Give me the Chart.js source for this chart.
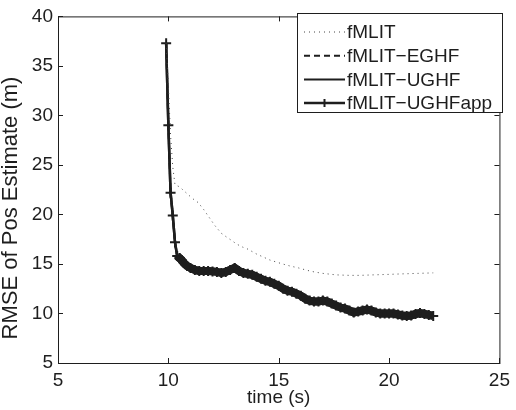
<!DOCTYPE html>
<html>
<head>
<meta charset="utf-8">
<script src="https://cdn.jsdelivr.net/npm/chart.js@4.4.0/dist/chart.umd.min.js"></script>
<style>
  html, body { margin: 0; padding: 0; background: #fff; }
  #wrap { width: 516px; height: 410px; }
</style>
</head>
<body>
<div id="wrap"><canvas id="rmseChart" width="516" height="410"></canvas></div>
<script>
// tick labels
const xTicks = [5, 10, 15, 20, 25];
const yTicks = [5, 10, 15, 20, 25, 30, 35, 40];

// fMLIT (dotted)
const timeMlit = [9.9, 10.0, 10.1, 10.2, 10.3, 10.5, 10.7, 10.9, 11.1, 11.35, 11.6, 11.85, 12.1, 12.4, 12.65,
    12.85, 13.1, 13.37, 13.6, 14.0, 14.3, 14.6, 15.1, 15.5, 15.9, 16.3, 16.6, 17.0, 17.6, 18.2, 18.7,
    19.3, 20.0, 20.6, 21.3, 22.0];
const rmseMlit = [37.3, 33.0, 28.0, 24.8, 23.0, 22.8, 22.4, 22.0, 21.6, 21.2, 20.5, 19.7, 18.9, 18.1, 17.7,
    17.4, 17.0, 16.7, 16.5, 16.0, 15.7, 15.4, 15.05, 14.8, 14.6, 14.35, 14.2, 14.05, 13.9, 13.85, 13.85,
    13.9, 13.95, 14.0, 14.05, 14.1];

// fMLIT-EGHF, fMLIT-UGHF and fMLIT-UGHFapp lie on top of each other
const timeApp = [9.9, 10.0, 10.1, 10.2, 10.3, 10.4, 10.5, 10.6, 10.7, 10.85, 11.0, 11.2, 11.4, 11.6, 11.8,
    12.0, 12.2, 12.4, 12.6, 12.8, 13.0, 13.2, 13.4, 13.6, 13.8, 14.0, 14.2, 14.4, 14.6, 14.8,
    15.0, 15.2, 15.4, 15.6, 15.8, 16.0, 16.2, 16.4, 16.6, 16.8, 17.0, 17.2, 17.4, 17.6, 17.8,
    18.0, 18.2, 18.4, 18.6, 18.8, 19.0, 19.2, 19.4, 19.6, 19.8, 20.0, 20.2, 20.4, 20.6, 20.8,
    21.0, 21.2, 21.4, 21.6, 21.8, 22.0];
const rmseApp = [37.3, 29.0, 22.2, 19.9, 17.2, 15.8, 15.6, 15.4, 15.1, 14.8, 14.6, 14.4, 14.3, 14.3, 14.3,
    14.25, 14.2, 14.1, 14.2, 14.4, 14.6, 14.3, 14.1, 14.0, 13.9, 13.7, 13.5, 13.3, 13.2, 13.0,
    12.8, 12.5, 12.3, 12.2, 12.0, 11.8, 11.5, 11.3, 11.2, 11.2, 11.3, 11.2, 11.0, 10.8, 10.6,
    10.5, 10.3, 10.1, 10.2, 10.3, 10.4, 10.3, 10.1, 10.0, 10.0, 10.0, 10.0, 9.9, 9.8, 9.75,
    9.8, 9.95, 10.05, 9.95, 9.85, 9.75];
const rmseEghf = rmseApp;
const rmseUghf = rmseApp;

const ink = '#1e1e1e';
const font = "'Liberation Sans', Arial, Helvetica, sans-serif";

function toPoints(xs, ys) {
    return xs.map((x, i) => ({ x: x, y: ys[i] }));
}

// box around the axes, inward ticks on all four sides, y label
const boxTicks = {
    id: 'boxTicks',
    afterDraw(chart) {
        const ctx = chart.ctx;
        const a = chart.chartArea;
        const xs = chart.scales.x;
        const ys = chart.scales.y;
        ctx.save();
        ctx.strokeStyle = ink;
        ctx.lineWidth = 1;
        ctx.strokeRect(a.left + 0.5, a.top + 0.5, a.right - a.left, a.bottom - a.top);
        ctx.beginPath();
        xTicks.forEach(v => {
            const px = Math.round(xs.getPixelForValue(v)) + 0.5;
            ctx.moveTo(px, a.bottom); ctx.lineTo(px, a.bottom - 5);
            ctx.moveTo(px, a.top); ctx.lineTo(px, a.top + 5);
        });
        yTicks.forEach(v => {
            const py = Math.round(ys.getPixelForValue(v)) + 0.5;
            ctx.moveTo(a.left, py); ctx.lineTo(a.left + 5, py);
            ctx.moveTo(a.right, py); ctx.lineTo(a.right - 5, py);
        });
        ctx.stroke();

        ctx.translate(11, 208);
        ctx.rotate(-Math.PI / 2);
        ctx.fillStyle = ink;
        ctx.font = '22px ' + font;
        ctx.textAlign = 'center';
        ctx.textBaseline = 'middle';
        ctx.fillText('RMSE of Pos Estimate (m)', 0, 0);
        ctx.restore();
    }
};

// MATLAB style legend box in the upper right corner
const boxLegend = {
    id: 'boxLegend',
    afterDraw(chart) {
        const ctx = chart.ctx;
        const left = 297, top = 13, w = 205, h = 99;
        ctx.save();
        ctx.fillStyle = '#fff';
        ctx.fillRect(left, top, w, h);
        ctx.strokeStyle = ink;
        ctx.lineWidth = 1;
        ctx.strokeRect(left + 0.5, top + 0.5, w, h);
        chart.data.datasets.forEach((ds, i) => {
            const y = top + 19 + i * 23.7;
            ctx.beginPath();
            ctx.setLineDash(ds.borderDash || []);
            ctx.lineWidth = ds.pointStyle === 'cross' ? 2.5 : ds.borderWidth;
            ctx.strokeStyle = ds.borderColor;
            ctx.moveTo(304, y);
            ctx.lineTo(345, y);
            ctx.stroke();
            ctx.setLineDash([]);
            if (ds.pointStyle === 'cross') {
                ctx.beginPath();
                ctx.lineWidth = 2;
                ctx.moveTo(324.5, y - 4); ctx.lineTo(324.5, y + 4);
                ctx.moveTo(320, y); ctx.lineTo(329, y);
                ctx.stroke();
            }
            ctx.fillStyle = ink;
            ctx.font = '19px ' + font;
            ctx.textBaseline = 'middle';
            ctx.textAlign = 'left';
            ctx.fillText(ds.label, 347, y + 1);
        });
        ctx.restore();
    }
};

// the markers are so dense after the drop that they merge into a thick band
const bandWidth = c => (c.p0.parsed.x >= 10.4 ? 8 : 2.5);

new Chart(document.getElementById('rmseChart').getContext('2d'), {
    type: 'line',
    data: {
        datasets: [{
            label: 'fMLIT',
            data: toPoints(timeMlit, rmseMlit),
            borderColor: '#444',
            borderWidth: 1,
            borderDash: [1, 4],
            pointRadius: 0,
            tension: 0
        }, {
            label: 'fMLIT\u2212EGHF',
            data: toPoints(timeApp, rmseEghf),
            borderColor: ink,
            borderWidth: 2,
            borderDash: [6, 4],
            pointRadius: 0,
            tension: 0
        }, {
            label: 'fMLIT\u2212UGHF',
            data: toPoints(timeApp, rmseUghf),
            borderColor: ink,
            borderWidth: 2,
            segment: { borderWidth: bandWidth },
            pointRadius: 0,
            tension: 0
        }, {
            label: 'fMLIT\u2212UGHFapp',
            data: toPoints(timeApp, rmseApp),
            borderColor: ink,
            backgroundColor: ink,
            borderWidth: 2.5,
            segment: { borderWidth: bandWidth },
            pointStyle: 'cross',
            pointRadius: 5,
            pointBorderWidth: 2,
            pointBorderColor: ink,
            tension: 0
        }]
    },
    options: {
        responsive: false,
        animation: false,
        layout: { padding: { left: 0, right: 10, top: 11, bottom: 0 } },
        plugins: {
            legend: { display: false },
            tooltip: { enabled: false }
        },
        scales: {
            x: {
                type: 'linear',
                min: 5,
                max: 25,
                afterBuildTicks: scale => { scale.ticks = xTicks.map(v => ({ value: v })); },
                afterFit: scale => { scale.height = 47; },
                grid: { display: false, drawTicks: false },
                border: { display: false },
                ticks: { color: ink, padding: 6, font: { family: font, size: 19 } },
                title: {
                    display: true,
                    text: 'time (s)',
                    color: ink,
                    padding: { top: 0, bottom: 1 },
                    font: { family: font, size: 19 }
                }
            },
            y: {
                min: 5,
                max: 40,
                afterBuildTicks: scale => { scale.ticks = yTicks.map(v => ({ value: v })); },
                afterFit: scale => { scale.width = 58; },
                grid: { display: false, drawTicks: false },
                border: { display: false },
                ticks: { color: ink, padding: 5, font: { family: font, size: 19 } }
            }
        }
    },
    plugins: [boxTicks, boxLegend]
});
</script>
</body>
</html>
